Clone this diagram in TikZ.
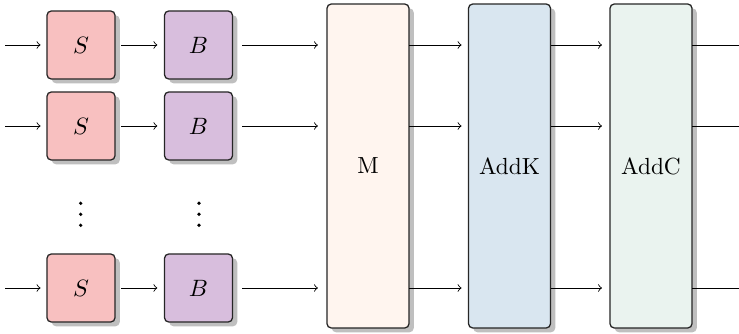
\documentclass[tikz,border=0pt]{standalone}
\usetikzlibrary{shadows}
\definecolor{sfill}{RGB}{248,192,192}
\definecolor{bfill}{RGB}{216,190,221}
\definecolor{mfill}{RGB}{255,245,239}
\definecolor{kfill}{RGB}{217,230,240}
\definecolor{cfill}{RGB}{234,243,239}
\begin{document}
\begin{tikzpicture}[x=0.463pt,y=-0.463pt,
  box/.style={draw=black!85, line width=0.6pt, rounded corners=2pt, outer sep=0pt,
    font=\fontsize{10.8pt}{13pt}\selectfont,
    drop shadow={shadow xshift=2.2pt,shadow yshift=-2pt,fill=black!25,opacity=1}},
  smallbox/.style={box, minimum width=31.5pt, minimum height=31.5pt, inner sep=0pt},
  tallbox/.style={box, minimum width=38pt, minimum height=150pt, inner sep=0pt},
  arr/.style={->, line width=0.4pt},
  dotmark/.style={circle, fill=black, inner sep=0pt, minimum size=1.7pt}]
\useasboundingbox (0,0) rectangle (739,334);
\node[tallbox, fill=mfill] (M) at (368,166) {M};
\node[tallbox, fill=kfill] (K) at (509.5,166) {AddK};
\node[tallbox, fill=cfill] (C) at (651,166) {AddC};
\foreach \r/\y in {1/45,2/126,3/288} {
  \coordinate (in\r) at (5,\y);
  \coordinate (out\r) at (739,\y);
  \node[smallbox, fill=sfill] (S\r) at (81,\y) {$S$};
  \node[smallbox, fill=bfill] (B\r) at (198.5,\y) {$B$};
  \draw[arr, shorten >=3pt] (in\r) -- (S\r.west);
  \draw[arr, shorten <=2.8pt, shorten >=3.3pt] (S\r.east) -- (B\r.west);
  \draw[arr, shorten <=4.4pt, shorten >=4.2pt] (B\r.east) -- (M.west |- B\r.east);
  \draw[arr, shorten >=3.2pt] (M.east |- B\r.east) -- (K.west |- B\r.east);
  \draw[arr, shorten >=3.7pt] (K.east |- B\r.east) -- (C.west |- B\r.east);
  \draw[line width=0.4pt] (C.east |- B\r.east) -- (out\r);
}
\foreach \x/\n in {80.7/a,199/b} {
  \foreach \yy/\m in {203.3/1,214.3/2,225.3/3} {
    \node[dotmark] (dot\n\m) at (\x,\yy) {};
  }
}
\end{tikzpicture}
\end{document}
